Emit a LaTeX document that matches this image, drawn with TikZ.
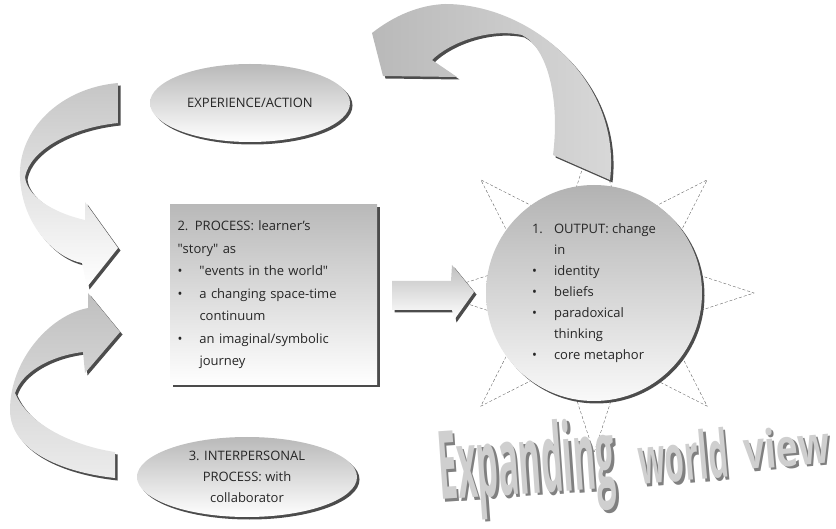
\documentclass[tikz,border=0pt]{standalone}
\usepackage{fontspec}
\usepackage{graphicx}
\setmainfont{Open Sans}
\usetikzlibrary{shapes, shadows}

\newcommand{\bulletcell}[1]{\makebox[22pt][l]{#1}}
\newcommand{\gapcell}{\hspace*{22pt}}

\tikzset{
  rim/.style={drop shadow={shadow xshift=2.5pt, shadow yshift=-2.5pt, fill=black!70, opacity=1}},
  txt/.style={font=\fontsize{13}{22.5}\selectfont, text=black!85},
  bubble/.style={ellipse, rim, inner sep=0pt, top color=gray!55, bottom color=white, align=center, txt},
  procbox/.style={rectangle, rim, top color=gray!55, bottom color=white, minimum width=207pt, minimum height=180pt, text width=192pt, align=left, txt},
  sun/.style={circle, rim, top color=gray!60, bottom color=gray!5, minimum size=216pt, inner sep=0pt, align=left, txt, font=\fontsize{13}{21}\selectfont},
  rays/.style={star, star points=8, star point ratio=2.1, minimum size=320pt, inner sep=0pt, draw=black!60, densely dashed, thin},
  ribbon/.style={rim, top color=gray!50, bottom color=gray!5},
  wart/.style={anchor=base west, inner sep=0pt, text=gray!38},
  wartshade/.style={anchor=base west, inner sep=0pt, text=black!50}
}

\begin{document}
\begin{tikzpicture}[x=1pt, y=-1pt]
\useasboundingbox (0,0) rectangle (836,529);

\node[rays] (burst) at (594,293) {};
\node[sun] (output) at (burst.center) {\bulletcell{1.}OUTPUT: change\\ \gapcell in\\ \bulletcell{\textbullet}identity\\ \bulletcell{\textbullet}beliefs\\ \bulletcell{\textbullet}paradoxical\\ \gapcell thinking\\ \bulletcell{\textbullet}core metaphor};

\path[ribbon, left color=gray!55, right color=gray!30] (610,180) -- (553,155)
  .. controls (560,100) and (548,48) .. (522,35)
  .. controls (490,28) and (450,42) .. (432,60)
  -- (457,77) -- (383,76) -- (372,33)
  .. controls (395,15) and (420,5) .. (445,4)
  .. controls (530,4) and (622,80) .. (610,180) -- cycle;

\path[ribbon, top color=gray!45, bottom color=white] (118,83)
  .. controls (60,88) and (18,130) .. (20,177)
  .. controls (22,225) and (55,258) .. (82,263)
  -- (87,287) -- (118,248) -- (85,202) -- (85,220)
  .. controls (50,212) and (27,195) .. (25,177)
  .. controls (30,150) and (70,128) .. (118,123) -- cycle;

\path[ribbon, top color=gray!50, bottom color=gray!15] (88,308) -- (88,293) -- (120,332) -- (85,373) -- (83,352)
  .. controls (50,356) and (22,372) .. (15,393)
  .. controls (30,428) and (80,447) .. (115,452) -- (115,478)
  .. controls (60,472) and (10,450) .. (10,410)
  .. controls (10,360) and (50,315) .. (88,308) -- cycle;

\path[ribbon, top color=gray!50, bottom color=white] (392,281) -- (451,281) -- (452,265) -- (474,292)
  -- (454,320) -- (452,310) -- (392,310) -- cycle;

\node[procbox] (process) at (273.5,295) {2. PROCESS: learner's\\ \textquotedbl story\textquotedbl{} as\\ \bulletcell{\textbullet}\textquotedbl events in the world\textquotedbl\\ \bulletcell{\textbullet}a changing space-time\\ \gapcell continuum\\ \bulletcell{\textbullet}an imaginal/symbolic\\ \gapcell journey};

\node[bubble, minimum width=200pt, minimum height=78pt] (experience) at (250,103) {EXPERIENCE/ACTION};
\node[bubble, minimum width=220pt, minimum height=80pt, font=\fontsize{13}{21}\selectfont] (interpersonal) at (247,477) {3. INTERPERSONAL\\ PROCESS: with\\ collaborator};

\node[wartshade, rotate=4] (expshade) at (442.5,502.5) {\resizebox{177pt}{72pt}{\bfseries Expanding}};
\node[wart, rotate=4] (expanding) at (440,500) {\resizebox{177pt}{72pt}{\bfseries Expanding}};
\node[wartshade, rotate=5] (worldshade) at (642.5,487.5) {\resizebox{90pt}{50pt}{\bfseries world}};
\node[wart, rotate=5] (world) at (640,485) {\resizebox{90pt}{50pt}{\bfseries world}};
\node[wartshade, rotate=5] (viewshade) at (747.5,472.5) {\resizebox{86pt}{40pt}{\bfseries view}};
\node[wart, rotate=5] (view) at (745,470) {\resizebox{86pt}{40pt}{\bfseries view}};
\end{tikzpicture}
\end{document}
